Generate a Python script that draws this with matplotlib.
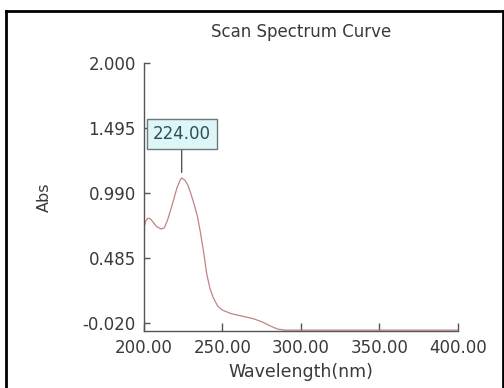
"""
Scan spectrum curve (UV absorbance vs wavelength).
"""

import matplotlib.pyplot as plt
from matplotlib.lines import Line2D

# values
wavelength = [200, 201, 202.5, 204, 206, 208, 211, 213, 215, 218, 221, 223, 224,
              226, 228, 230, 232, 234, 236, 238, 240, 242, 244, 247, 250, 255,
              260, 265, 270, 275, 280, 285, 290, 300, 350, 400]
absorbance = [0.72, 0.77, 0.795, 0.79, 0.76, 0.73, 0.71, 0.72, 0.78, 0.90, 1.03,
              1.09, 1.107, 1.09, 1.05, 0.98, 0.90, 0.81, 0.68, 0.53, 0.36, 0.25,
              0.18, 0.11, 0.08, 0.055, 0.04, 0.027, 0.012, -0.01, -0.04, -0.067,
              -0.075, -0.075, -0.075, -0.075]
x_ticks = [200, 250, 300, 350, 400]
y_ticks = [-0.020, 0.485, 0.990, 1.495, 2.000]
peak_wavelength = 224.00
peak_abs = 1.107

TEXT = "#3a3a3a"
AXIS = "#555555"
CURVE = "#c08484"

plt.rcParams["font.family"] = ["DejaVu Sans"]

fig = plt.figure(figsize=(5.04, 3.88), dpi=100)
ax = fig.add_axes([0.2857, 0.1469, 0.623, 0.6907])

ax.plot(wavelength, absorbance, color=CURVE, lw=0.9)

ax.set_xlim(200, 400)
ax.set_ylim(-0.082, 2.0)
ax.set_xticks(x_ticks)
ax.set_xticklabels([f"{v:.2f}" for v in x_ticks])
ax.set_yticks(y_ticks)
ax.set_yticklabels([f"{v:.3f}" for v in y_ticks])

for side in ("top", "right"):
    ax.spines[side].set_visible(False)
for side in ("left", "bottom"):
    ax.spines[side].set_color(AXIS)
    ax.spines[side].set_linewidth(1.0)

ax.tick_params(axis="x", direction="in", length=6, width=1, color=AXIS,
               labelsize=12, labelcolor=TEXT, pad=6)
ax.tick_params(axis="y", direction="in", length=4, width=1, color=AXIS,
               labelsize=12, labelcolor=TEXT, pad=6)

ax.set_title("Scan Spectrum Curve", fontsize=12, color=TEXT, pad=19)
ax.set_xlabel("Wavelength(nm)", fontsize=12.5, color=TEXT, labelpad=4)
ax.set_ylabel("Abs", fontsize=11.5, color=TEXT, labelpad=22)

ax.annotate(
    f"{peak_wavelength:.2f}",
    xy=(peak_wavelength, peak_abs),
    xytext=(0, 32),
    textcoords="offset points",
    ha="center",
    va="center",
    fontsize=12,
    color="#2b5057",
    bbox=dict(boxstyle="square,pad=0.36", fc="#dff6f8", ec="#6a7a7a", lw=1),
    arrowprops=dict(arrowstyle="-", color="#555555", lw=1, shrinkA=0, shrinkB=4),
)

# outer frame of the screenshot
fig.add_artist(Line2D([0.012, 0.012], [0.0, 0.9716], transform=fig.transFigure,
                      color="black", lw=2))
fig.add_artist(Line2D([0.012, 1.0], [0.9716, 0.9716], transform=fig.transFigure,
                      color="black", lw=2))
fig.add_artist(Line2D([0.998, 0.998], [0.0, 0.9716], transform=fig.transFigure,
                      color="black", lw=2))

fig.savefig("out.png", dpi=100)
